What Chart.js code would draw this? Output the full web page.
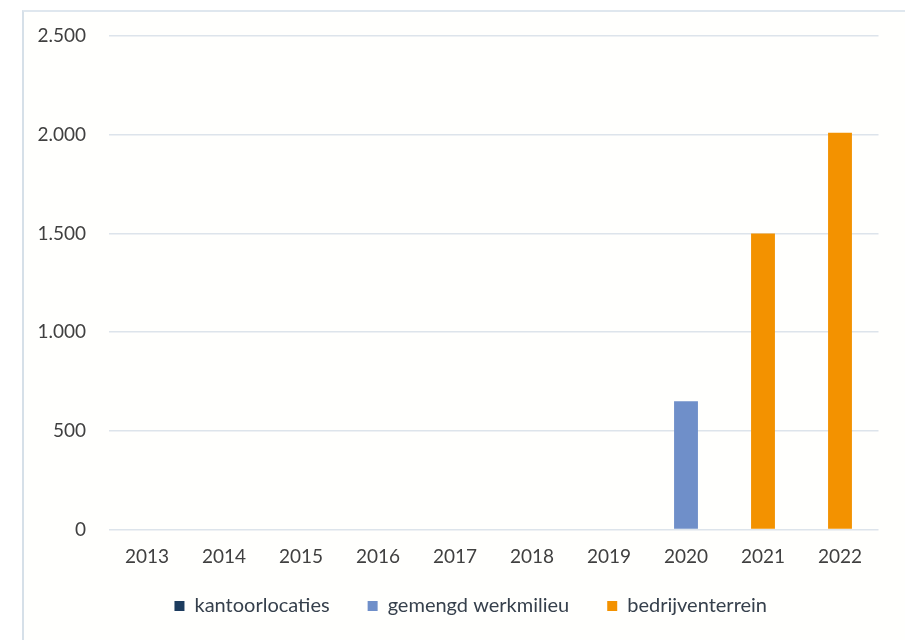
<!DOCTYPE html>
<html>
<head>
<meta charset="utf-8">
<script src="https://cdn.jsdelivr.net/npm/chart.js@4/dist/chart.umd.min.js"></script>
<style>
  html, body { margin: 0; padding: 0; background: #ffffff; overflow: hidden; }
  #wrap { position: relative; width: 905px; height: 640px; }
  #frame { position: absolute; left: 22px; top: 10px; width: 883px; height: 630px;
           border-left: 2px solid #d6e0e8; border-top: 2px solid #dfe7ee; background: #fffffd; box-sizing: border-box; }
  #c { position: absolute; left: 0; top: 0; }
</style>
</head>
<body>
<div id="wrap">
  <div id="frame"></div>
  <canvas id="c" width="905" height="640"></canvas>
</div>
<script>
const years = ['2013','2014','2015','2016','2017','2018','2019','2020','2021','2022'];
const kantoorlocaties   = [0, 0, 0, 0, 0, 0, 0, 0, 0, 0];
const gemengdWerkmilieu = [0, 0, 0, 0, 0, 0, 0, 650, 0, 0];
const bedrijventerrein  = [0, 0, 0, 0, 0, 0, 0, 0, 1500, 2010];
const yTicks = [0, 500, 1000, 1500, 2000, 2500];

const FONT = 'Lato, "Open Sans", "DejaVu Sans", sans-serif';
const fmt = v => String(v).replace(/\B(?=(\d{3})+(?!\d))/g, '.');

// shift the legend block to where it sits in the reference
const legendShift = {
  id: 'legendShift',
  afterLayout(chart) {
    const lg = chart.legend;
    if (!lg) return;
    const dx = 31.5, dy = -14;
    lg.left += dx; lg.right += dx;
    lg.top += dy; lg.bottom += dy;
  }
};

new Chart(document.getElementById('c'), {
  type: 'bar',
  data: {
    labels: years,
    datasets: [
      { label: 'kantoorlocaties', data: kantoorlocaties, backgroundColor: '#1d3c5e' },
      { label: 'gemengd werkmilieu', data: gemengdWerkmilieu, backgroundColor: '#6f8fc9' },
      { label: 'bedrijventerrein', data: bedrijventerrein, backgroundColor: '#f39200' }
    ]
  },
  plugins: [legendShift],
  options: {
    responsive: false,
    animation: false,
    devicePixelRatio: 1,
    layout: { padding: { left: 0, right: 26.5, top: 36, bottom: 0 } },
    datasets: { bar: { categoryPercentage: 1, barPercentage: 0.31, borderWidth: 0 } },
    plugins: {
      tooltip: { enabled: false },
      legend: {
        position: 'bottom',
        labels: {
          boxWidth: 10, boxHeight: 10, padding: 38,
          color: '#36404c',
          font: { family: FONT, size: 20 }
        }
      }
    },
    scales: {
      x: {
        stacked: true,
        grid: { display: false, drawTicks: false },
        border: { display: false },
        ticks: { color: '#404040', padding: 16, font: { family: FONT, size: 19 }, maxRotation: 0 },
        afterFit: s => { s.height = 42.5; }
      },
      y: {
        stacked: true,
        min: 0, max: 2500,
        afterBuildTicks: s => { s.ticks = yTicks.map(v => ({ value: v })); },
        grid: { color: '#dde4eb', lineWidth: 1.5, drawTicks: false },
        border: { display: false },
        ticks: { color: '#404040', padding: 22.5, font: { family: FONT, size: 19 }, callback: v => fmt(v) },
        afterFit: s => { s.width = 108.5; }
      }
    }
  }
});
</script>
</body>
</html>
